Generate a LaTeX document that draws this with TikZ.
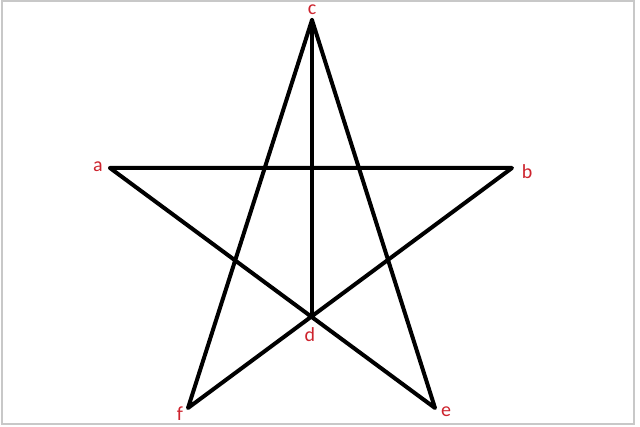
\documentclass[tikz,border=0pt]{standalone}
\usepackage{fontspec}
\setmainfont{Carlito}
\usetikzlibrary{positioning}
\usetikzlibrary{calc}
\definecolor{lblred}{RGB}{205,35,45}
\definecolor{framegray}{RGB}{200,200,200}
\tikzset{
  lbl/.style={text=lblred,font=\fontsize{20}{20}\selectfont,inner sep=0pt},
  edge/.style={line width=4pt,line cap=round,line join=round}
}

\begin{document}
\begin{tikzpicture}[x=1pt,y=-1pt]
    \useasboundingbox (0,0) rectangle (640,427);
    \draw[framegray,line width=2pt] (1.5,1.5) rectangle (634,424.5);
    \coordinate (A) at (110,168);
    \coordinate (B) at (512,168);
    \coordinate (C) at (312,20);
    \coordinate (F) at (188,408);
    \coordinate (E) at (435,408);
    \coordinate (D) at (intersection of A--E and B--F);
    \draw[edge] (A) -- (B) -- (F) -- (C) -- (E) -- (A);
    \draw[edge] (C) -- (C |- D);
    % vertex labels
    \node[lbl] (a) at (98,167) {a};
    \node[lbl] (b) at (527,172) {b};
    \node[lbl] (c) at (312,10) {c};
    \node[lbl] (d) at (310,335) {d};
    \node[lbl] (f) at (180,414) {f};
    \node[lbl] (e) at (446,412) {e};
\end{tikzpicture}
\end{document}
